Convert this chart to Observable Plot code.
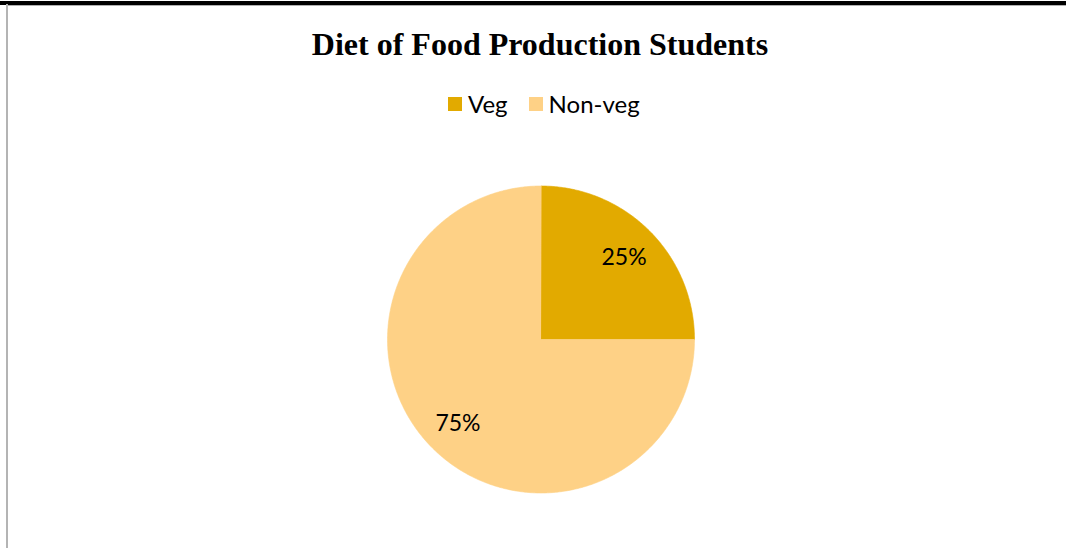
<!DOCTYPE html>
<html><head><meta charset="utf-8">
<script src="https://cdn.jsdelivr.net/npm/d3@7"></script>
<script src="https://cdn.jsdelivr.net/npm/@observablehq/plot@0.6"></script>
<style>
body{margin:0;background:#fff;}
#page{position:relative;width:1066px;height:548px;overflow:hidden;background:#fff;}
#topbar{position:absolute;left:0;top:1px;width:1066px;height:3.5px;background:#000;}
#topgray{position:absolute;left:7px;top:4.5px;width:1059px;height:1.5px;background:#b0b0b0;}
#leftline{position:absolute;left:6px;top:4px;width:2px;height:544px;background:#b4b4b4;}
#title{position:absolute;left:0;top:28px;width:1080px;text-align:center;font-family:"Liberation Serif","Times New Roman",serif;font-weight:bold;font-size:32px;line-height:32px;color:#000;white-space:nowrap;}
#legend{position:absolute;left:448px;top:92px;height:24px;display:flex;align-items:center;font-family:Lato,sans-serif;font-size:24px;line-height:24px;color:#000;}
.item{display:flex;align-items:center;margin-right:21px;}
.sw{width:14px;height:14px;margin-right:6px;}
#chart{position:absolute;left:0;top:130px;}
</style></head>
<body><div id="page">
<div id="topbar"></div><div id="topgray"></div><div id="leftline"></div>
<div id="title">Diet of Food Production Students</div>
<div id="legend"></div>
<div id="chart"></div>
</div>
<script>
const categories = ["Veg", "Non-veg"];
const values = [25, 75];
const labels = ["25%", "75%"];
const colors = ["#E2AA00", "#FED186"];

// legend
const legend = document.getElementById("legend");
categories.forEach((c, i) => {
  const it = document.createElement("div"); it.className = "item";
  const sw = document.createElement("div"); sw.className = "sw"; sw.style.background = colors[i];
  const tx = document.createElement("span"); tx.textContent = c;
  it.appendChild(sw); it.appendChild(tx); legend.appendChild(it);
});

// pie slices from data
const arcs = d3.pie().sort(null).value(d => d)(values);
const pts = [];
const labelPts = [];
arcs.forEach((a, i) => {
  const cat = categories[i];
  pts.push({cat, x: 0, y: 0});
  const n = Math.max(2, Math.ceil((a.endAngle - a.startAngle) / (Math.PI / 360)));
  for (let k = 0; k <= n; k++) {
    const t = a.startAngle + (a.endAngle - a.startAngle) * k / n;
    pts.push({cat, x: Math.sin(t), y: Math.cos(t)});
  }
  const mid = (a.startAngle + a.endAngle) / 2;
  labelPts.push({cat, label: labels[i], x: 0.765 * Math.sin(mid), y: 0.765 * Math.cos(mid)});
});

const plot = Plot.plot({
  width: 1066,
  height: 418,
  margin: 0,
  style: {background: "transparent", overflow: "visible"},
  x: {domain: [-1, 1], range: [387, 694], axis: null},
  y: {domain: [-1, 1], range: [362.5, 55.5], axis: null},
  color: {domain: categories, range: colors},
  marks: [
    Plot.line(pts, {x: "x", y: "y", z: "cat", fill: "cat", stroke: "cat", strokeWidth: 0.6, curve: "linear-closed"}),
    Plot.text(labelPts, {x: "x", y: "y", text: "label", fill: "#000", fontSize: 23, dy: 1, fontFamily: "Lato, sans-serif"})
  ]
});
document.getElementById("chart").appendChild(plot);
</script>
</body></html>
